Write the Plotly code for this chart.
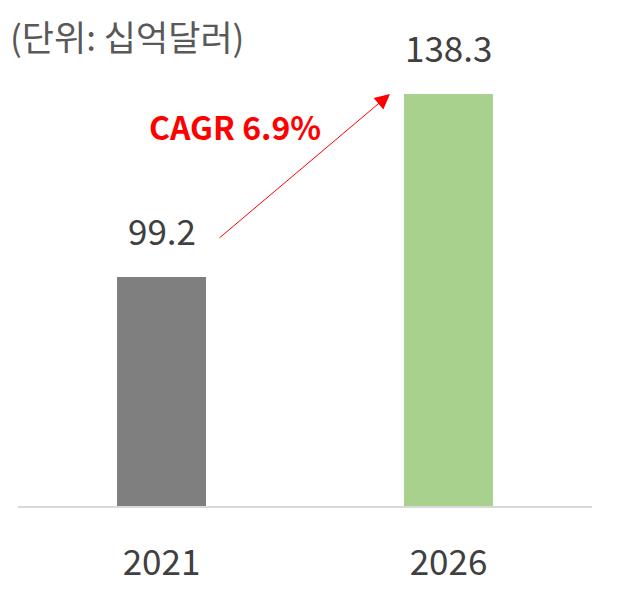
import plotly.graph_objects as go

years = ["2021", "2026"]
values = [99.2, 138.3]
bar_colors = ["#7F7F7F", "#A9D18E"]
unit_label = "(단위: 십억달러)"
cagr_label = "CAGR 6.9%"

FONT = "Noto Sans CJK KR"
y_min, y_max = 50.27, 149.84

W, H = 610, 598  # page body has 8px default margin

fig = go.Figure()
fig.add_trace(go.Bar(
    x=[0, 1], y=values,
    marker=dict(color=bar_colors, line=dict(width=0)),
    width=0.31,
    hoverinfo="skip",
))

for i, v in enumerate(values):
    fig.add_annotation(
        x=i, y=v, xref="x", yref="y",
        text=f"{v:.1f}", showarrow=False,
        yanchor="bottom", yshift=20,
        font=dict(family=FONT, size=35, color="#404040"),
    )

# CAGR arrow from near the 2021 label to the 2026 bar top
fig.add_annotation(
    x=0.796, y=values[1], xref="x", yref="y",
    ax=0.197, ay=107.3, axref="x", ayref="y",
    text="", showarrow=True,
    arrowhead=2, arrowsize=3, arrowwidth=1, arrowcolor="#FF0000",
    standoff=0, startstandoff=0,
)
fig.add_annotation(
    x=0.256, y=131.5, xref="x", yref="y",
    text=f"<b>{cagr_label}</b>", showarrow=False,
    font=dict(family=FONT, size=32, color="#FF0000"),
)

fig.update_layout(
    width=W, height=H,
    margin=dict(l=10, r=26, t=32, b=100),
    plot_bgcolor="white", paper_bgcolor="white",
    showlegend=False,
    title=dict(
        text=unit_label, x=2 / W, xanchor="left", xref="container",
        y=1 - 31 / H, yanchor="middle", yref="container",
        font=dict(family=FONT, size=35, color="#595959"),
    ),
    xaxis=dict(
        range=[-0.5, 1.5], tickmode="array", tickvals=[0, 1], ticktext=years,
        showgrid=False, zeroline=False,
        showline=True, linecolor="#D9D9D9", linewidth=2,
        ticks="", ticklabelstandoff=25,
        tickfont=dict(family=FONT, size=35, color="#404040"),
        fixedrange=True,
    ),
    yaxis=dict(
        range=[y_min, y_max], visible=False, fixedrange=True,
    ),
)

fig.write_html("out.html")
